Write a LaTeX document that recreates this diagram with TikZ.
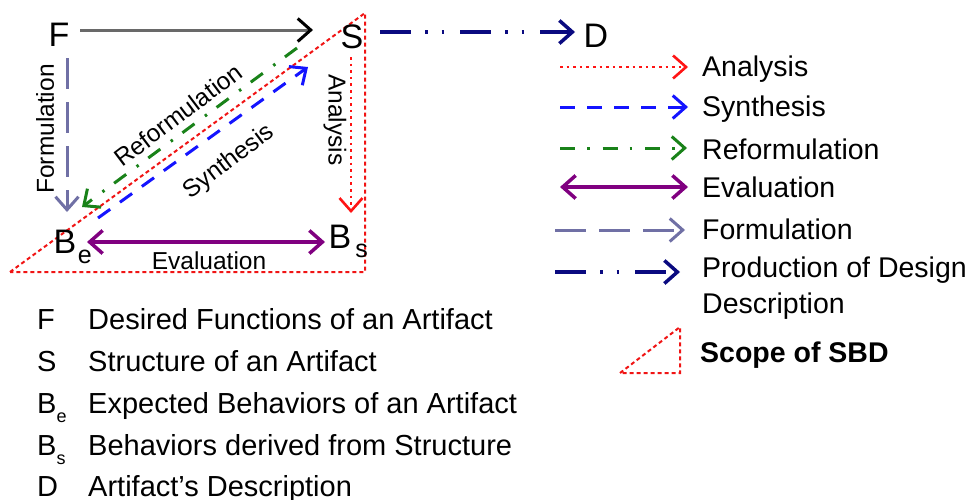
\documentclass[tikz,border=0pt]{standalone}
\usepackage{fontspec}
\setmainfont{Liberation Sans}
\usetikzlibrary{arrows.meta}
\definecolor{fsgray}{RGB}{105,105,105}
\definecolor{formc}{RGB}{112,112,165}
\definecolor{anac}{RGB}{255,20,20}
\definecolor{sync}{RGB}{20,20,255}
\definecolor{refc}{RGB}{25,130,25}
\definecolor{evac}{RGB}{128,0,128}
\definecolor{prodc}{RGB}{10,10,128}
\definecolor{scopec}{RGB}{240,20,20}
\tikzset{
  big/.style={inner sep=0pt, font=\fontsize{34}{34}\selectfont},
  lab/.style={inner sep=0pt, font=\fontsize{24.5}{24.5}\selectfont},
  leg/.style={inner sep=0pt, anchor=base west, font=\fontsize{28.5}{30}\selectfont},
  legb/.style={inner sep=0pt, anchor=base west, font=\fontsize{29}{30}\selectfont},
  barb/.tip={Straight Barb[length=13pt,width=23pt]},
  tip/.style={-barb},
  ana/.style={tip, anac, line width=2.6pt, dash pattern=on 2.6pt off 4pt},
  syn/.style={tip, sync, line width=3pt, dash pattern=on 15pt off 12pt},
  refo/.style={tip, refc, line width=3pt, dash pattern=on 15pt off 12pt on 2.5pt off 13pt},
  eva/.style={barb-barb, evac, line width=3.5pt},
  form/.style={tip, formc, line width=3pt, dash pattern=on 31pt off 13pt},
  prod/.style={tip, prodc, line width=3.5pt, dash pattern=on 31pt off 14pt on 2.5pt off 14pt on 2.5pt off 16pt},
  scope/.style={scopec, line width=2pt, dash pattern=on 4pt off 3pt},
}
\begin{document}
\begin{tikzpicture}[x=1pt,y=-1pt]
\useasboundingbox (0,0) rectangle (971,499);

% scope triangle
\draw[scope] (10,272) -- (365,13) -- (365,272) -- cycle;

% main nodes
\node[big] (F) at (59,35) {F};
\node[big] (S) at (352,37) {S};
\node[big] (D) at (596,36) {D};
\node[big] (Be) at (65,242) {B\rlap{\smash{\kern1.5pt\raisebox{-10pt}{\fontsize{25}{25}\selectfont e}}}};
\node[big] (Bs) at (340,237) {B\rlap{\smash{\kern4pt\raisebox{-9pt}{\fontsize{25}{25}\selectfont s}}}};

% connectors
\draw[fsgray, line width=3pt, -{Straight Barb[length=13pt,width=23pt,color=black]}]
  ([xshift=21pt,yshift=5pt]F.center) -- ([xshift=-39pt,yshift=7pt]S.center);
\draw[form] ([xshift=8pt,yshift=-23pt]F.center) -- ([xshift=2pt,yshift=30pt]Be.center);
\draw[ana] ([xshift=-1pt,yshift=-20pt]S.center) -- ([xshift=11pt,yshift=24pt]Bs.center);
\draw[eva] ([xshift=22pt]Be.center) -- ([xshift=-15pt,yshift=-5pt]Bs.center);
\draw[syn] ([xshift=33pt,yshift=24pt]Be.center) -- ([xshift=-44pt,yshift=-30pt]S.center);
\draw[refo] ([xshift=-55pt,yshift=-11pt]S.center) -- ([xshift=17pt,yshift=35pt]Be.center);
\draw[prod] ([xshift=28pt,yshift=5pt]S.center) -- ([xshift=-21pt,yshift=4pt]D.center);

% connector labels
\node[lab, rotate=90] (lForm) at (45,129) {Formulation};
\node[lab, rotate=-90] (lAna) at (335,120) {Analysis};
\node[lab, rotate=37] (lRef) at (178,115) {Reformulation};
\node[lab, rotate=37] (lSyn) at (229,162) {Synthesis};
\node[lab] (lEva) at (209,261) {Evaluation};

% right legend
\node[leg] (gA) at (702,76) {Analysis};
\node[leg] (gS) at (702,116) {Synthesis};
\node[leg] (gR) at (702,159) {Reformulation};
\node[leg] (gE) at (702,197) {Evaluation};
\node[leg] (gF) at (702,239) {Formulation};
\node[leg] (gP) at (702,277) {Production of Design};
\node[leg] (gP2) at (702,313) {Description};
\node[leg, font=\fontsize{28.5}{30}\selectfont\bfseries] (gSc) at (700,362) {Scope of SBD};

\coordinate (cA) at (560,67);
\coordinate (cS) at (560,107);
\coordinate (cR) at (560,148);
\coordinate (cE) at (560,187);
\coordinate (cF) at (555,230);
\coordinate (cP) at (555,272);
\draw[ana] (cA) -- ([xshift=-14pt,yshift=9pt]gA.base west);
\draw[syn] (cS) -- ([xshift=-14pt,yshift=9pt]gS.base west);
\draw[refo] (cR) -- ([xshift=-15pt,yshift=11pt]gR.base west);
\draw[eva] (cE) -- ([xshift=-14pt,yshift=10pt]gE.base west);
\draw[form] (cF) -- ([xshift=-17pt,yshift=9pt]gF.base west);
\draw[prod] (cP) -- ([xshift=-22pt,yshift=5pt]gP.base west);
\draw[scope] (620,373) -- (680,327) -- (680,373) -- cycle;

% bottom legend
\node[legb] (k1) at (37,329) {F};
\node[legb] (k2) at (37,371) {S};
\node[legb] (k3) at (37,413) {B\raisebox{-9pt}{\fontsize{18}{18}\selectfont e}};
\node[legb] (k4) at (37,455) {B\raisebox{-9pt}{\fontsize{18}{18}\selectfont s}};
\node[legb] (k5) at (37,496) {D};
\node[legb] (t1) at (88,329) {Desired Functions of an Artifact};
\node[legb] (t2) at (88,371) {Structure of an Artifact};
\node[legb] (t3) at (88,413) {Expected Behaviors of an Artifact};
\node[legb] (t4) at (88,455) {Behaviors derived from Structure};
\node[legb] (t5) at (88,496) {Artifact’s Description};
\end{tikzpicture}
\end{document}
